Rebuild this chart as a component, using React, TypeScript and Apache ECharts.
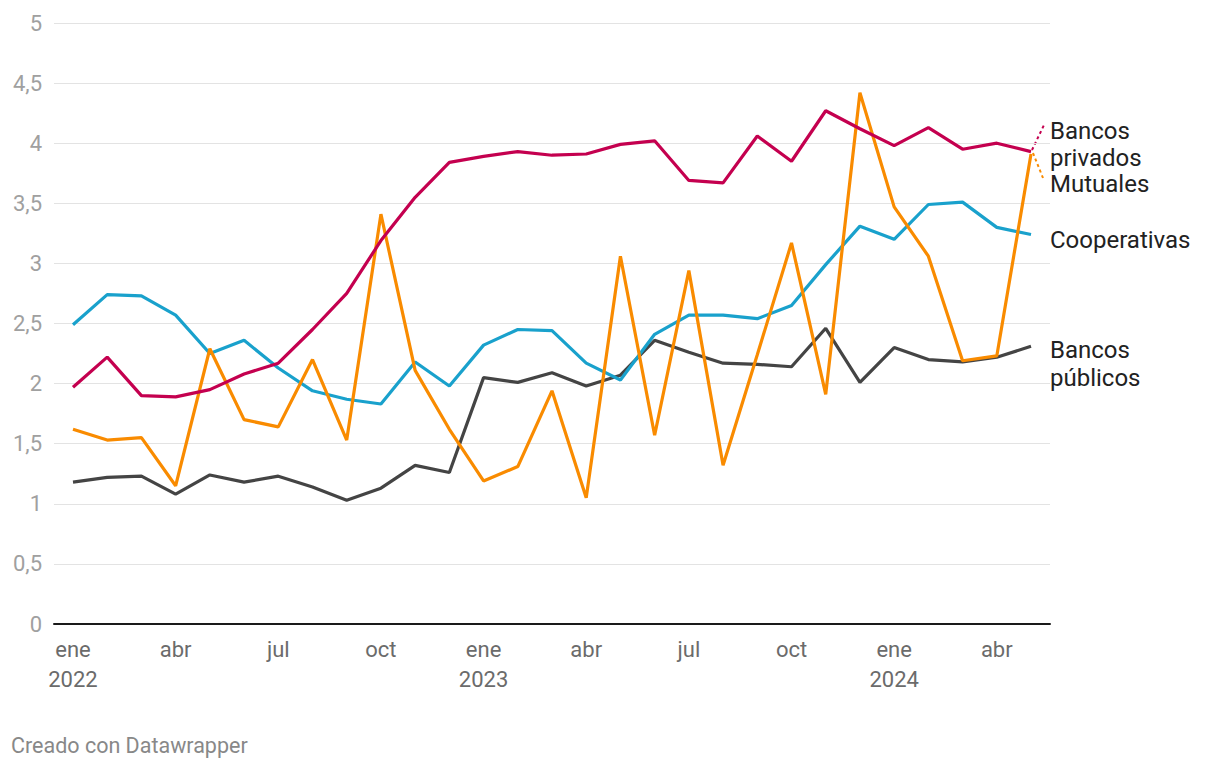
import React, { useEffect, useRef } from "react";
import * as echarts from "echarts";

const months = ["ene","feb","mar","abr","may","jun","jul","ago","sep","oct","nov","dic","ene","feb","mar","abr","may","jun","jul","ago","sep","oct","nov","dic","ene","feb","mar","abr","may"];
const years: Record<number, string> = { 0: "2022", 12: "2023", 24: "2024" };
const tickIdx = [0, 3, 6, 9, 12, 15, 18, 21, 24, 27];

const bancosPrivados = [1.97,2.22,1.90,1.89,1.95,2.08,2.17,2.45,2.75,3.19,3.55,3.84,3.89,3.93,3.90,3.91,3.99,4.02,3.69,3.67,4.06,3.85,4.27,4.12,3.98,4.13,3.95,4.00,3.93];
const mutuales = [1.62,1.53,1.55,1.15,2.29,1.70,1.64,2.20,1.53,3.41,2.11,1.62,1.19,1.31,1.94,1.05,3.06,1.57,2.94,1.32,2.24,3.17,1.91,4.42,3.47,3.06,2.19,2.23,3.91];
const cooperativas = [2.49,2.74,2.73,2.57,2.25,2.36,2.13,1.94,1.87,1.83,2.18,1.98,2.32,2.45,2.44,2.17,2.03,2.41,2.57,2.57,2.54,2.65,2.99,3.31,3.20,3.49,3.51,3.30,3.24];
const bancosPublicos = [1.18,1.22,1.23,1.08,1.24,1.18,1.23,1.14,1.03,1.13,1.32,1.26,2.05,2.01,2.09,1.98,2.07,2.36,2.26,2.17,2.16,2.14,2.46,2.01,2.30,2.20,2.18,2.22,2.31];

const seriesNames = ["Bancos privados", "Mutuales", "Cooperativas", "Bancos públicos"];
const seriesColors = ["#c4004f", "#f98b00", "#19a1cc", "#444444"];
const labelTexts = ["Bancos\nprivados", "Mutuales", "Cooperativas", "Bancos\npúblicos"];

const FONT = "Roboto, 'Noto Sans', sans-serif";

export default function App() {
  const ref = useRef<HTMLDivElement>(null);
  useEffect(() => {
    if (!ref.current) return;
    const chart = echarts.init(ref.current, null, { renderer: "svg" });
    const all = [bancosPrivados, mutuales, cooperativas, bancosPublicos];
    const n = months.length;
    const option: any = {
      animation: false,
      textStyle: { fontFamily: FONT },
      grid: { left: 54, right: 170, top: 23, bottom: 146 },
      xAxis: {
        type: "value",
        min: -0.555,
        max: n - 1 + 0.555,
        splitLine: { show: false },
        axisLine: { show: true, onZero: true, lineStyle: { color: "#1a1a1a", width: 2 } },
        axisTick: { show: false },
        axisLabel: {
          customValues: tickIdx,
          color: "#6b6b6b",
          fontSize: 22,
          lineHeight: 30,
          margin: 10,
          fontFamily: FONT,
          formatter: (v: number) => {
            const i = Math.round(v);
            return years[i] ? months[i] + "\n" + years[i] : months[i];
          },
        },
      },
      yAxis: {
        type: "value",
        min: 0,
        max: 5,
        interval: 0.5,
        axisLine: { show: false },
        axisTick: { show: false },
        splitLine: { lineStyle: { color: "#e3e3e3", width: 1 } },
        axisLabel: {
          color: "#a0a0a0",
          fontSize: 22,
          margin: 12,
          fontFamily: FONT,
          formatter: (v: number) => String(v).replace(".", ","),
        },
      },
      series: all.map((d, k) => ({
        name: seriesNames[k],
        type: "line",
        data: d.map((v, i) => [i, v]),
        showSymbol: false,
        symbol: "none",
        lineStyle: { color: seriesColors[k], width: 3.2 },
        z: 10 - k,
      })),
      graphic: [
        { type: "text", left: 1050, top: 117, style: { text: labelTexts[0], fill: "#222", font: `24px ${FONT}`, lineHeight: 27 } },
        { type: "text", left: 1050, top: 172, style: { text: labelTexts[1], fill: "#222", font: `24px ${FONT}`, lineHeight: 20 } },
        { type: "text", left: 1050, top: 226, style: { text: labelTexts[2], fill: "#222", font: `24px ${FONT}`, lineHeight: 28 } },
        { type: "text", left: 1050, top: 336, style: { text: labelTexts[3], fill: "#222", font: `24px ${FONT}`, lineHeight: 28 } },
        { type: "line", shape: { x1: 1032, y1: 150, x2: 1044, y2: 125 }, style: { stroke: seriesColors[0], lineWidth: 2, lineDash: [3, 3] } },
        { type: "line", shape: { x1: 1033, y1: 153, x2: 1043, y2: 178 }, style: { stroke: seriesColors[1], lineWidth: 2, lineDash: [3, 3] } },
        { type: "text", left: 11, top: 734, style: { text: "Creado con Datawrapper", fill: "#888", font: `21.5px ${FONT}` } },
      ],
    };
    chart.setOption(option);
    return () => chart.dispose();
  }, []);
  return <div ref={ref} style={{ position: "fixed", left: 0, top: 0, width: 1220, height: 770, background: "#fff" }} />;
}
